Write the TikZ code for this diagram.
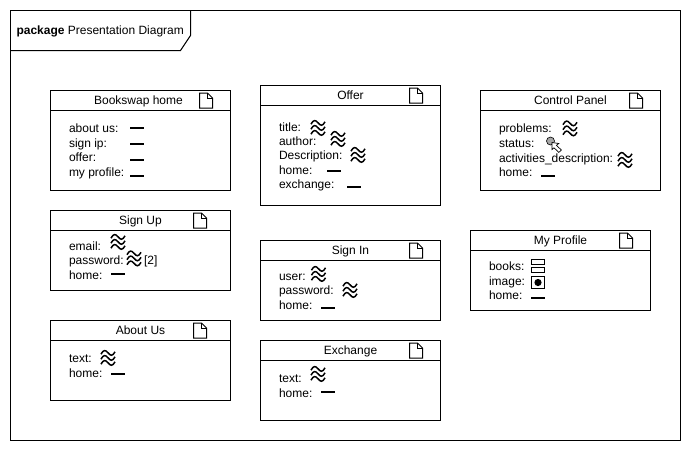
\documentclass[tikz,border=0pt]{standalone}
\usepackage{fontspec}
\setmainfont{Liberation Sans}
\tikzset{
  panel/.style={draw,minimum width=180pt,inner sep=0pt,outer sep=0pt},
  panelhead/.style={panel,minimum height=20pt,text height=10pt,text depth=2pt},
  field/.style={anchor=base west,inner sep=0pt,outer sep=0pt},
  dashmark/.style={line width=2pt},
  pics/docmark/.style={code={
    \draw[fill=white] (-6.5,-7.5) -- (1.5,-7.5) -- (6.5,-2.5) -- (6.5,7.5) -- (-6.5,7.5) -- cycle;
    \draw (1.5,-7.5) -- (1.5,-2.5) -- (6.5,-2.5);
  }},
  pics/wavy/.style={code={
    \foreach \dy in {-5,0,5}
      \draw[line width=1.5pt,yshift=-\dy pt] (-7,1.2) .. controls (-4.5,-3.6) and (-2.5,-3.2) .. (0,-0.2) .. controls (2.5,2.8) and (4.5,3.6) .. (7,-1.2);
  }},
}
\newcommand{\dashat}[3]{\draw[dashmark] (#1,#3) -- (#2,#3);}
\begin{document}
\begin{tikzpicture}[x=1pt,y=-1pt,line width=1pt,font=\fontsize{12}{14}\selectfont]
  \useasboundingbox (0,0) rectangle (691,451);

  % outer frame and its tab
  \node[draw,minimum width=670pt,minimum height=430pt,inner sep=0pt] (frame) at (345.5,225.5) {};
  \draw (190.5,10.5) -- (190.5,35.5) -- (180.5,50.5) -- (10.5,50.5);
  \node[field] (frametitle) at (16.5,34) {\textbf{package} Presentation Diagram};

  % bookswap home
  \node[panel,minimum height=20pt] (hometitle) at (140.5,100.5) {};
  \node[field,anchor=base] (homename) at (138.5,104.5) {Bookswap home};
  \node[panel,minimum height=80pt] (homebody) at (140.5,150.5) {};
  \pic at ([xshift=65.5pt]hometitle.center) {docmark};
  \node[field] (homeabout) at (69,132.5) {about us:};
  \node[field] (homesign) at (69,147) {sign ip:};
  \node[field] (homeoffer) at (69,161.5) {offer:};
  \node[field] (homeprofile) at (69,176) {my profile:};
  \dashat{130}{144}{128}
  \dashat{130}{144}{144}
  \dashat{130}{144}{160}
  \dashat{130}{144}{176}

  % sign up
  \node[panelhead] (uptitle) at (140.5,220.5) {Sign Up};
  \node[panel,minimum height=60pt] (upbody) at (140.5,260.5) {};
  \pic at ([xshift=59.5pt]uptitle.center) {docmark};
  \node[field] (upemail) at (69,250) {email:};
  \node[field] (uppassword) at (69,264.5) {password:};
  \node[field] (uphome) at (69,279) {home:};
  \node[field] (uptwo) at (144,264.5) {[2]};
  \pic at (118,242) {wavy};
  \pic at (134,258.5) {wavy};
  \dashat{111}{125}{274}

  % about us
  \node[panelhead] (abouttitle) at (140.5,330.5) {About Us};
  \node[panel,minimum height=60pt] (aboutbody) at (140.5,370.5) {};
  \pic at ([xshift=59.5pt]abouttitle.center) {docmark};
  \node[field] (abouttext) at (69,362) {text:};
  \node[field] (abouthome) at (69,377) {home:};
  \pic at (108,358) {wavy};
  \dashat{111}{125}{374}

  % offer
  \node[panelhead] (offertitle) at (350.5,95.5) {Offer};
  \node[panel,minimum height=100pt] (offerbody) at (350.5,155.5) {};
  \pic at ([xshift=65.5pt]offertitle.center) {docmark};
  \node[field] (offertext) at (279,131) {title:};
  \node[field] (offerauthor) at (279,145.5) {author:};
  \node[field] (offerdesc) at (279,159) {Description:};
  \node[field] (offerhome) at (279,174) {home:};
  \node[field] (offerexchange) at (279,188) {exchange:};
  \pic at (318,128) {wavy};
  \pic at (338,139) {wavy};
  \pic at (358,155) {wavy};
  \dashat{327}{341}{171}
  \dashat{347}{361}{187}

  % sign in
  \node[panelhead] (intitle) at (350.5,250.5) {Sign In};
  \node[panel,minimum height=60pt] (inbody) at (350.5,290.5) {};
  \pic at ([xshift=65.5pt]intitle.center) {docmark};
  \node[field] (inuser) at (279,280) {user:};
  \node[field] (inpassword) at (279,294.5) {password:};
  \node[field] (inhome) at (279,309) {home:};
  \pic at (318.5,274) {wavy};
  \pic at (350,290) {wavy};
  \dashat{321}{335}{308}

  % exchange
  \node[panelhead] (extitle) at (350.5,350.5) {Exchange};
  \node[panel,minimum height=60pt] (exbody) at (350.5,390.5) {};
  \pic at ([xshift=65.5pt]extitle.center) {docmark};
  \node[field] (extext) at (279,382) {text:};
  \node[field] (exhome) at (279,397) {home:};
  \pic at (318,374) {wavy};
  \dashat{321}{335}{392}

  % control panel
  \node[panelhead] (cptitle) at (570.5,100.5) {Control Panel};
  \node[panel,minimum height=80pt] (cpbody) at (570.5,150.5) {};
  \pic at ([xshift=65.5pt]cptitle.center) {docmark};
  \node[field] (cpproblems) at (499,132.5) {problems:};
  \node[field] (cpstatus) at (499,147) {status:};
  \node[field] (cpactivities) at (499,162) {activities\_description:};
  \node[field] (cphome) at (499,176.5) {home:};
  \pic at (570,128.5) {wavy};
  \pic at (625,160) {wavy};
  \dashat{541}{555}{176}
  \node[circle,draw,fill=gray!70,minimum size=8pt,inner sep=0pt,line width=.6pt] (cpradio) at (550.5,141) {};
  \draw[fill=white,line width=.7pt] (552,142.5) -- (552,149.5) -- (554,147.8) -- (558.8,152.4) -- (561.4,150) -- (556.4,145.4) -- (558.8,143.5) -- cycle;

  % my profile
  \node[panelhead] (mptitle) at (560.5,240.5) {My Profile};
  \node[panel,minimum height=60pt] (mpbody) at (560.5,280.5) {};
  \pic at ([xshift=65.5pt]mptitle.center) {docmark};
  \node[field] (mpbooks) at (489,270.5) {books:};
  \node[field] (mpimage) at (489,285) {image:};
  \node[field] (mphome) at (489,299.5) {home:};
  \draw (531.5,259.5) rectangle (544.5,264.5);
  \draw (531.5,267.5) rectangle (544.5,272.5);
  \draw (531.5,276.5) rectangle (544.5,288.5);
  \fill (538,282.5) circle (3.6);
  \dashat{531}{545}{298}
\end{tikzpicture}
\end{document}
